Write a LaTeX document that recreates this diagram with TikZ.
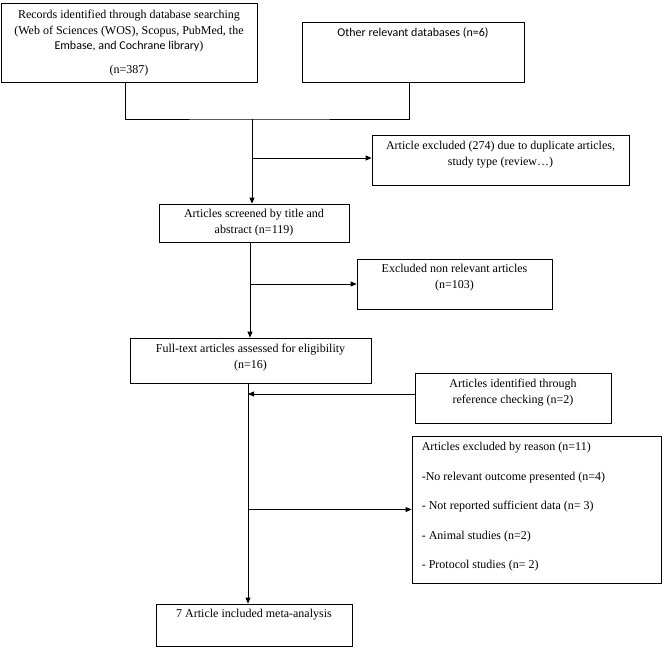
\documentclass[tikz,border=0pt]{standalone}
\usepackage{fontspec}
\setmainfont{Liberation Serif}
\newfontfamily\calibri{Carlito}
\usetikzlibrary{arrows.meta}

\tikzset{
    box/.style={draw, line width=0.8pt, inner sep=0pt},
    txt/.style={anchor=north, align=center, inner sep=0pt,
                font=\fontsize{12}{15.5}\selectfont},
    flow/.style={line width=0.8pt, -{Triangle[length=6pt, width=5pt]}},
    link/.style={line width=0.8pt}
}

\begin{document}
\begin{tikzpicture}[x=1pt, y=-1pt]
    \useasboundingbox (0,0) rectangle (669,653);

    % boxes
    \node[box, minimum width=256, minimum height=79,
          label={[txt, yshift=-7.6pt]north:{Records identified through database searching\\
                 (Web of Sciences (WOS), Scopus, PubMed, the\\
                 {\calibri Embase, and Cochrane library})\\[8.5pt](n=387)}}]
        (rec) at (129,42.5) {};
    \node[box, minimum width=222, minimum height=60,
          label={[txt, yshift=-5.6pt]north:{\calibri Other relevant databases (n=6)}}]
        (oth) at (413,52) {};
    \node[box, minimum width=257, minimum height=50,
          label={[txt, yshift=-6.6pt]north:{Article excluded (274) due to duplicate articles,\\
                 study type (review\dots)}}]
        (dup) at (500.5,160) {};
    \node[box, minimum width=190, minimum height=38,
          label={[txt, yshift=-5.6pt]north:{Articles screened by title and\\abstract (n=119)}}]
        (scr) at (254,223) {};
    \node[box, minimum width=195, minimum height=50,
          label={[txt, yshift=-5.6pt]north:{Excluded non relevant articles\\(n=103)}}]
        (nrel) at (454.5,284) {};
    \node[box, minimum width=241, minimum height=45,
          label={[txt, yshift=-6.6pt]north:{Full-text articles assessed for eligibility\\(n=16)}}]
        (full) at (250.5,360.5) {};
    \node[box, minimum width=196, minimum height=50,
          label={[txt, yshift=-6.6pt]north:{Articles identified through\\reference checking (n=2)}}]
        (ref) at (513,398) {};
    \node[box, minimum width=249, minimum height=147,
          label={[txt, anchor=north west, align=left, xshift=10pt, yshift=-6.6pt]north west:{%
                 Articles excluded by reason (n=11)\\[14pt]
                 -No relevant outcome presented (n=4)\\[14pt]
                 - Not reported sufficient data (n= 3)\\[14pt]
                 - Animal studies (n=2)\\[14pt]
                 - Protocol studies (n= 2)}}]
        (rsn) at (536.5,509.5) {};
    \node[box, minimum width=196, minimum height=42,
          label={[txt, yshift=-5.6pt]north:{7 Article included meta-analysis}}]
        (fin) at (254,625) {};

    % trunk positions
    \coordinate (j) at (252,119);
    \coordinate (t2) at (250,0);
    \coordinate (t3) at (248,0);

    % connectors
    \draw[link] ([xshift=-4pt]rec.south) |- (j) -| ([xshift=-4pt]oth.south);
    \draw[flow] (j) -- (j |- scr.north);
    \draw[flow] ([yshift=2pt]dup.west -| j) -- ([yshift=2pt]dup.west);
    \draw[flow] (scr.south -| t2) -- (full.north -| t2);
    \draw[flow] (nrel.west -| t2) -- (nrel.west);
    \draw[flow] ([yshift=4pt]ref.west) -- ([yshift=4pt]ref.west -| t3);
    \draw[flow] (rsn.west -| t3) -- (rsn.west);
    \draw[flow] (full.south -| t3) -- (fin.north -| t3);
\end{tikzpicture}
\end{document}
